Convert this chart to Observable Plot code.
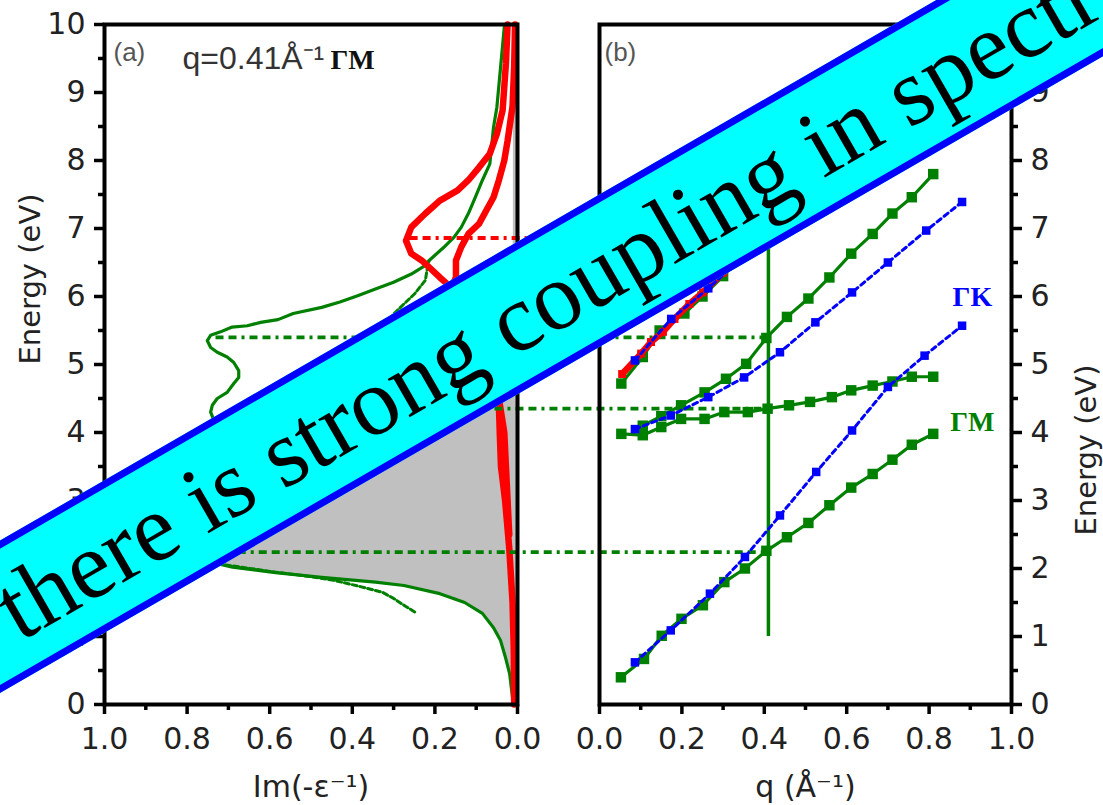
<!DOCTYPE html>
<html><head><meta charset="utf-8">
<script src="https://cdn.jsdelivr.net/npm/d3@7"></script>
<script src="https://cdn.jsdelivr.net/npm/@observablehq/plot@0.6"></script>
<style>
html,body{margin:0;padding:0;background:#fff;}
#wrap{position:relative;width:1103px;height:805px;overflow:hidden;background:#fff;}
#wrap svg{position:absolute;left:0;top:0;}
#banner{position:absolute;left:-634px;top:224px;width:2400px;height:132px;box-sizing:border-box;
 border:7px solid #0000ff;background:#00ffff;transform:rotate(-30deg);transform-origin:50% 50%;
 font-family:"Liberation Serif",serif;font-size:96px;line-height:118px;text-align:center;white-space:nowrap;color:#000;}
</style></head>
<body><div id="wrap"><div id="banner">there is strong coupling in spectra</div></div>
<script>
// ---------- panel (a): loss functions, [energy (eV), Im(-1/eps)] ----------
const greyEdge = [[0,0.008],[0.25,0.015],[0.45,0.019],[0.69,0.029],[0.94,0.041],[1.13,0.058],[1.34,0.085],[1.50,0.128],[1.63,0.188],[1.75,0.275],[1.80,0.344],[1.87,0.474],[1.94,0.586],[2.02,0.69],[2.15,0.76],[2.4,0.74],[2.8,0.62],[3.2,0.5],[3.6,0.38],[4.0,0.26],[4.4,0.15],[4.8,0.08],[5.2,0.04],[5.6,0.02],[6.0,0.012],[7.0,0.01],[8.9,0.01]];
const greenLoss = [[0.1,0.012],[0.25,0.015],[0.45,0.019],[0.69,0.029],[0.94,0.041],[1.13,0.058],[1.34,0.085],[1.50,0.128],[1.63,0.188],[1.75,0.275],[1.80,0.344],[1.87,0.474],[1.94,0.586],[2.02,0.69],[2.12,0.76],[2.24,0.79],[2.4,0.76],[2.7,0.66],[3.0,0.6],[3.4,0.6],[3.8,0.66],[4.1,0.73],[4.30,0.743],[4.40,0.739],[4.50,0.727],[4.59,0.703],[4.72,0.687],[4.81,0.675],[4.91,0.675],[5.03,0.687],[5.11,0.703],[5.18,0.727],[5.25,0.743],[5.35,0.751],[5.43,0.743],[5.48,0.719],[5.55,0.691],[5.57,0.654],[5.62,0.622],[5.66,0.58],[5.75,0.543],[5.84,0.474],[5.92,0.43],[6.01,0.387],[6.11,0.344],[6.21,0.30],[6.33,0.257],[6.45,0.225],[6.53,0.214],[6.72,0.179],[6.87,0.154],[7.02,0.136],[7.22,0.119],[7.46,0.102],[7.71,0.085],[7.95,0.067],[8.49,0.058],[8.78,0.05],[9.37,0.041],[9.96,0.032]];
const greenLoss2 = [[1.36,0.249],[1.46,0.275],[1.56,0.30],[1.65,0.327],[1.73,0.378],[1.82,0.44],[1.88,0.50],[1.95,0.59],[2.1,0.76],[2.3,0.78],[2.7,0.66],[3.1,0.5],[3.5,0.42],[4.0,0.45],[4.35,0.55],[4.7,0.5],[5.0,0.42],[5.5,0.34],[5.89,0.275],[6.04,0.249],[6.24,0.223],[6.43,0.218],[6.53,0.214]];
const redLoss = [[0,0.008],[0.8,0.009],[1.5,0.012],[2.3,0.02],[3.0,0.03],[3.5,0.04],[4.0,0.043],[4.4,0.045],[4.8,0.055],[5.3,0.075],[5.8,0.12],[6.19,0.171],[6.28,0.188],[6.43,0.214],[6.53,0.232],[6.63,0.257],[6.82,0.27],[7.02,0.257],[7.22,0.223],[7.41,0.188],[7.56,0.145],[7.71,0.119],[7.9,0.093],[8.1,0.067],[8.39,0.05],[8.74,0.036],[9.43,0.028],[10,0.024]];
const redLoss2 = [[2.5,0.02],[3.0,0.024],[3.5,0.028],[4.0,0.032],[4.5,0.045],[5.0,0.09],[5.4,0.15],[5.7,0.19],[6.0,0.17],[6.28,0.149],[6.53,0.149],[6.73,0.136],[6.92,0.119],[7.07,0.093],[7.26,0.076],[7.46,0.058],[7.71,0.045],[8.0,0.032],[8.29,0.024],[8.8,0.012],[9.4,0.008],[10,0.006]];
// peak positions (energy, intensity) marked by dash-dot lines
const greenPeaks = [[5.40,0.73],[4.35,0.58],[2.24,0.79]];
const redPeaks = [[6.86,0.26]];
const qCut = 0.41;
// ---------- panel (b): dispersions, [q (1/A), energy (eV)] ----------
const gmLow = [[0.052,0.40],[0.108,0.67],[0.151,1.01],[0.199,1.26],[0.251,1.46],[0.303,1.80],[0.353,2.00],[0.405,2.26],[0.455,2.46],[0.507,2.67],[0.558,2.93],[0.611,3.19],[0.663,3.39],[0.711,3.60],[0.758,3.82],[0.810,3.98]];
const gmFlat = [[0.053,3.98],[0.105,3.96],[0.150,4.08],[0.198,4.20],[0.255,4.20],[0.303,4.30],[0.360,4.30],[0.408,4.35],[0.460,4.40],[0.511,4.45],[0.564,4.52],[0.611,4.62],[0.663,4.69],[0.711,4.75],[0.758,4.82],[0.810,4.82]];
const gmSteep = [[0.105,4.10],[0.150,4.24],[0.198,4.40],[0.255,4.59],[0.307,4.79],[0.356,5.01],[0.405,5.39],[0.455,5.70],[0.507,5.97],[0.558,6.28],[0.611,6.63],[0.663,6.92],[0.711,7.22],[0.758,7.46],[0.810,7.80]];
const gmUpper = [[0.053,4.72],[0.105,5.11],[0.146,5.50],[0.206,5.75],[0.250,6.00],[0.300,6.30]];
const gkLow = [[0.086,0.62],[0.173,1.09],[0.268,1.63],[0.353,2.17],[0.438,2.78],[0.526,3.42],[0.613,4.03],[0.700,4.67],[0.789,5.13],[0.880,5.57]];
const gkMid = [[0.086,4.05],[0.173,4.25],[0.264,4.52],[0.351,4.81],[0.438,5.18],[0.524,5.62],[0.613,6.06],[0.700,6.50],[0.793,6.97],[0.880,7.39]];
const gkUp = [[0.086,5.06],[0.174,5.67],[0.264,6.12],[0.351,6.60],[0.438,7.00]];
const redDisp = [[0.055,4.86],[0.101,5.16],[0.125,5.33],[0.154,5.48],[0.182,5.67],[0.218,5.89],[0.251,6.06],[0.300,6.35],[0.350,6.62],[0.410,6.86]];
// ticks
const xMajor = [0,0.2,0.4,0.6,0.8,1.0];
const xMinor = [0.1,0.3,0.5,0.7,0.9];
const yMajor = [0,1,2,3,4,5,6,7,8,9,10];
const yMinor = [0.5,1.5,2.5,3.5,4.5,5.5,6.5,7.5,8.5,9.5];

const W = 1103, H = 805;
const GREEN = "#008000", RED = "#ff0000", BLUE = "#0000ff";
const L = {left:104, right:517}, R = {left:599, right:1011}, TOP = 24, BOT = 704;
const DASH = "8,5,8,5,3,5";
const tickFont = {fontSize: 30, fontFamily: "DejaVu Sans", fill: "#222"};

// map q=0.41 of panel (b) into panel (a) coordinates so the dash-dot lines reach it
let vEnd;
try {
  const lx = Plot.scale({x: {domain: [1, 0], range: [L.left, L.right]}});
  const rx = Plot.scale({x: {domain: [0, 1], range: [R.left, R.right]}});
  vEnd = lx.invert(rx.apply(qCut));
} catch (e) {
  vEnd = d3.scaleLinear([1, 0], [L.left, L.right]).invert(d3.scaleLinear([0, 1], [R.left, R.right])(qCut));
}

const E = d => d[0], V = d => d[1];
const left = Plot.plot({
  width: W, height: H,
  marginLeft: L.left, marginRight: W - L.right, marginTop: TOP, marginBottom: H - BOT,
  style: {background: "transparent", overflow: "visible"},
  x: {domain: [1, 0], label: null},
  y: {domain: [0, 10], label: null},
  marks: [
    Plot.areaX(greyEdge, {y: E, x1: 0, x2: V, fill: "#c0c0c0"}),
    Plot.line(greenLoss2, {x: V, y: E, stroke: GREEN, strokeWidth: 3, strokeDasharray: "5,3"}),
    Plot.line(greenLoss, {x: V, y: E, stroke: GREEN, strokeWidth: 3.2}),
    Plot.line(redLoss2, {x: V, y: E, stroke: RED, strokeWidth: 6.5}),
    Plot.line(redLoss, {x: V, y: E, stroke: RED, strokeWidth: 6.5}),
    Plot.ruleY(greenPeaks, {y: E, x1: V, x2: vEnd, stroke: GREEN, strokeWidth: 3.8, strokeDasharray: DASH}),
    Plot.ruleY(redPeaks, {y: E, x1: V, x2: vEnd, stroke: RED, strokeWidth: 3.8, strokeDasharray: DASH}),
    Plot.frame({stroke: "#000", strokeWidth: 4}),
    Plot.axisX({ticks: xMajor, tickSize: 10, tickPadding: 13, strokeWidth: 3.5, stroke: "#000", tickFormat: d3.format(".1f"), label: null, ...tickFont}),
    Plot.axisX({ticks: xMinor, tickSize: 6, strokeWidth: 3.5, stroke: "#000", tickFormat: () => "", label: null}),
    Plot.axisY({ticks: yMajor, tickSize: 10, tickPadding: 9, strokeWidth: 3.5, stroke: "#000", tickFormat: d3.format("d"), label: null, ...tickFont}),
    Plot.axisY({ticks: yMinor, tickSize: 6, strokeWidth: 3.5, stroke: "#000", tickFormat: () => "", label: null}),
    Plot.text(["Im(-ε⁻¹)"], {text: d => d, frameAnchor: "bottom", dy: 83, lineAnchor: "middle", fontSize: 30, fontFamily: "DejaVu Sans", fill: "#222"}),
    Plot.text(["Energy (eV)"], {text: d => d, frameAnchor: "left", dx: -74, rotate: -90, lineAnchor: "middle", fontSize: 29, fontFamily: "DejaVu Sans", fill: "#222"}),
    Plot.text(["(a)"], {text: d => d, frameAnchor: "top-left", dx: 9, dy: 28, textAnchor: "start", lineAnchor: "middle", fontSize: 26, fontFamily: "Liberation Sans", fill: "#555"}),
    Plot.text(["q=0.41Å⁻¹"], {text: d => d, frameAnchor: "top-left", dx: 78, dy: 34, textAnchor: "start", lineAnchor: "middle", fontSize: 32, fontFamily: "Liberation Sans", fill: "#333"}),
    Plot.text(["ΓM"], {text: d => d, frameAnchor: "top-left", dx: 226, dy: 36, textAnchor: "start", lineAnchor: "middle", fontSize: 28, fontWeight: "bold", fontFamily: "Liberation Serif", fill: "#111"})
  ]
});

const Q = d => d[0], EN = d => d[1];
const series = (data, color, r, width, dash) => [
  Plot.line(data, {x: Q, y: EN, stroke: color, strokeWidth: width, strokeDasharray: dash}),
  Plot.dot(data, {x: Q, y: EN, symbol: "square", r, fill: color, stroke: "none"})
];
const right = Plot.plot({
  width: W, height: H,
  marginLeft: R.left, marginRight: W - R.right, marginTop: TOP, marginBottom: H - BOT,
  style: {background: "transparent", overflow: "visible"},
  x: {domain: [0, 1], label: null},
  y: {domain: [0, 10], label: null},
  marks: [
    Plot.ruleX([qCut], {x: d => d, y1: 1.0, y2: 7.0, stroke: GREEN, strokeWidth: 3.5}),
    ...series(gmLow, GREEN, 5.9, 3.2),
    ...series(gmFlat, GREEN, 5.9, 3.2),
    ...series(gmSteep, GREEN, 5.9, 3.2),
    ...series(gmUpper, GREEN, 5.9, 3.2),
    ...series(redDisp, RED, 4.5, 6.5),
    ...series(gkLow, BLUE, 4.8, 3, "5,4"),
    ...series(gkMid, BLUE, 4.8, 3, "5,4"),
    ...series(gkUp, BLUE, 4.8, 3, "5,4"),
    Plot.frame({stroke: "#000", strokeWidth: 4}),
    Plot.axisX({ticks: xMajor, tickSize: 10, tickPadding: 13, strokeWidth: 3.5, stroke: "#000", tickFormat: d3.format(".1f"), label: null, ...tickFont}),
    Plot.axisX({ticks: xMinor, tickSize: 6, strokeWidth: 3.5, stroke: "#000", tickFormat: () => "", label: null}),
    Plot.axisY({anchor: "right", ticks: yMajor, tickSize: 10, tickPadding: 9, strokeWidth: 3.5, stroke: "#000", tickFormat: d3.format("d"), label: null, ...tickFont}),
    Plot.axisY({anchor: "right", ticks: yMinor, tickSize: 6, strokeWidth: 3.5, stroke: "#000", tickFormat: () => "", label: null}),
    Plot.text(["q (Å⁻¹)"], {text: d => d, frameAnchor: "bottom", dy: 83, lineAnchor: "middle", fontSize: 30, fontFamily: "DejaVu Sans", fill: "#222"}),
    Plot.text(["Energy (eV)"], {text: d => d, frameAnchor: "right", dx: 75, rotate: -90, lineAnchor: "middle", fontSize: 29, fontFamily: "DejaVu Sans", fill: "#222"}),
    Plot.text(["(b)"], {text: d => d, frameAnchor: "top-left", dx: 5, dy: 28, textAnchor: "start", lineAnchor: "middle", fontSize: 26, fontFamily: "Liberation Sans", fill: "#555"}),
    Plot.text(["ΓK"], {text: d => d, x: 0.905, y: 5.99, lineAnchor: "middle", fontSize: 28, fontWeight: "bold", fontFamily: "Liberation Serif", fill: BLUE}),
    Plot.text(["ΓM"], {text: d => d, x: 0.905, y: 4.15, lineAnchor: "middle", fontSize: 28, fontWeight: "bold", fontFamily: "Liberation Serif", fill: GREEN})
  ]
});

const wrap = document.getElementById("wrap");
const banner = document.getElementById("banner");
wrap.insertBefore(left, banner);
wrap.insertBefore(right, banner);
</script></body></html>
